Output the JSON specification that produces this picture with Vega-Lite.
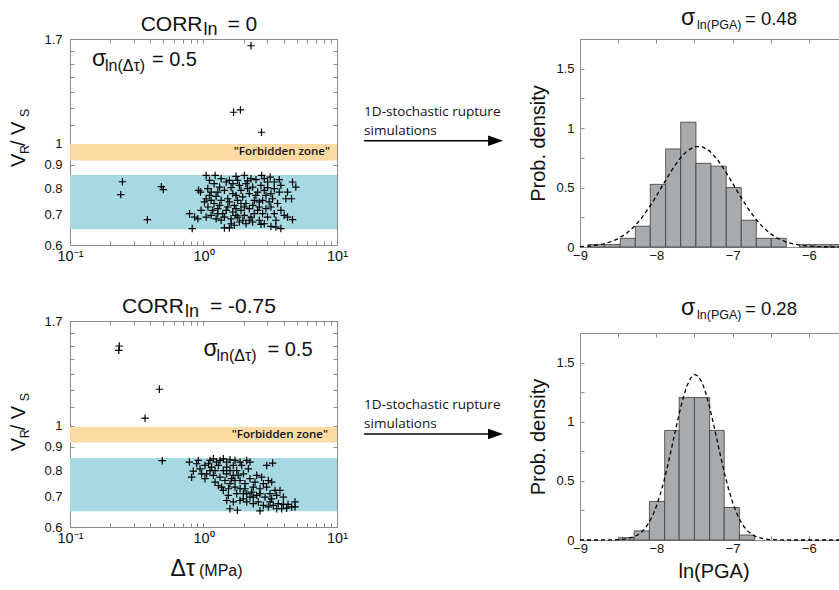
{
"$schema": "https://vega.github.io/schema/vega-lite/v6.json",
"background": "white",
"padding": {"left": 8, "top": 6, "right": 0, "bottom": 0},
"config": {
 "font": "Liberation Sans",
 "view": {"stroke": "#8c8c8c", "strokeWidth": 1},
 "axis": {"grid": false, "domain": false, "tickColor": "#8c8c8c", "tickSize": -4, "labelColor": "#111", "labelFontSize": 13, "labelFont": "Liberation Sans", "labelOverlap": false, "labelFlush": false, "labelBound": false, "titleFont": "Liberation Sans", "titleFontWeight": "normal", "titleColor": "#111"},
 "text": {"color": "#111", "font": "Liberation Sans"}
},
"datasets": {
 "sct": [
  {"tau":2.27,"vr":1.643},{"tau":1.68,"vr":1.174},{"tau":1.89,"vr":1.188},{"tau":2.72,"vr":1.061},{"tau":0.247,"vr":0.826},{"tau":0.24,"vr":0.774},{"tau":0.483,"vr":0.806},{"tau":0.5,"vr":0.794},{"tau":0.38,"vr":0.682},
  {"tau":1.047,"vr":0.853},{"tau":1.222,"vr":0.853},{"tau":2.023,"vr":0.853},{"tau":2.725,"vr":0.853},{"tau":3.162,"vr":0.846},{"tau":1.753,"vr":0.849},{"tau":2.269,"vr":0.839},{"tau":3.692,"vr":0.835},{"tau":3.388,"vr":0.825},{"tau":1.355,"vr":0.839},{"tau":1.563,"vr":0.832},{"tau":1.109,"vr":0.832},{"tau":2.473,"vr":0.835},{"tau":2.853,"vr":0.839},{"tau":4.643,"vr":0.825},{"tau":4.915,"vr":0.804},{"tau":4.26,"vr":0.784},{"tau":4.563,"vr":0.758},{"tau":3.692,"vr":0.784},{"tau":4.14,"vr":0.758},{"tau":0.918,"vr":0.791},{"tau":0.95,"vr":0.784},{"tau":1.077,"vr":0.798},{"tau":1.141,"vr":0.784},{"tau":1.047,"vr":0.758},{"tau":1.017,"vr":0.746},{"tau":1.141,"vr":0.752},{"tau":1.243,"vr":0.767},{"tau":1.435,"vr":0.791},{"tau":1.609,"vr":0.802},{"tau":1.857,"vr":0.811},{"tau":2.082,"vr":0.818},{"tau":2.335,"vr":0.804},{"tau":2.694,"vr":0.811},{"tau":3.021,"vr":0.802},{"tau":3.388,"vr":0.798},{"tau":1.355,"vr":0.752},{"tau":1.519,"vr":0.758},{"tau":1.753,"vr":0.771},{"tau":1.966,"vr":0.765},{"tau":2.204,"vr":0.778},{"tau":2.544,"vr":0.784},{"tau":2.936,"vr":0.771},{"tau":3.292,"vr":0.758},{"tau":2.618,"vr":0.746},{"tau":2.403,"vr":0.752},{"tau":2.772,"vr":0.752},{"tau":1.91,"vr":0.74},{"tau":1.703,"vr":0.733},{"tau":1.519,"vr":0.727},{"tau":1.279,"vr":0.721},{"tau":1.174,"vr":0.715},{"tau":1.394,"vr":0.703},{"tau":1.656,"vr":0.709},{"tau":1.91,"vr":0.715},{"tau":2.204,"vr":0.721},{"tau":2.544,"vr":0.715},{"tau":2.936,"vr":0.721},{"tau":3.199,"vr":0.727},{"tau":3.587,"vr":0.74},{"tau":3.799,"vr":0.715},{"tau":3.388,"vr":0.703},{"tau":0.786,"vr":0.703},{"tau":0.857,"vr":0.691},{"tau":0.907,"vr":0.685},{"tau":1.047,"vr":0.691},{"tau":1.141,"vr":0.697},{"tau":1.243,"vr":0.685},{"tau":1.435,"vr":0.691},{"tau":1.609,"vr":0.685},{"tau":1.804,"vr":0.691},{"tau":2.023,"vr":0.697},{"tau":2.269,"vr":0.691},{"tau":2.618,"vr":0.68},{"tau":3.021,"vr":0.691},{"tau":3.486,"vr":0.68},{"tau":4.023,"vr":0.697},{"tau":4.26,"vr":0.691},{"tau":4.643,"vr":0.682},{"tau":2.853,"vr":0.668},{"tau":3.199,"vr":0.659},{"tau":3.486,"vr":0.657},{"tau":3.799,"vr":0.652},{"tau":2.694,"vr":0.666},{"tau":2.335,"vr":0.674},{"tau":2.082,"vr":0.668},{"tau":1.857,"vr":0.674},{"tau":1.703,"vr":0.663},{"tau":1.563,"vr":0.654},{"tau":1.435,"vr":0.654},{"tau":0.823,"vr":0.652},{"tau":1.355,"vr":0.68},
  {"tau":1.2,"vr":0.818},{"tau":1.32,"vr":0.804},{"tau":1.48,"vr":0.825},{"tau":1.66,"vr":0.818},{"tau":1.8,"vr":0.832},{"tau":2.14,"vr":0.83},{"tau":3.02,"vr":0.825},{"tau":3.8,"vr":0.811},{"tau":1.2,"vr":0.74},{"tau":1.32,"vr":0.733},{"tau":1.56,"vr":0.746},{"tau":1.8,"vr":0.752},{"tau":2.08,"vr":0.74},{"tau":2.34,"vr":0.733},{"tau":3.1,"vr":0.746},{"tau":1.48,"vr":0.715},{"tau":1.75,"vr":0.721},{"tau":2.02,"vr":0.727},{"tau":2.4,"vr":0.703},{"tau":2.77,"vr":0.703},{"tau":1.75,"vr":0.697},{"tau":1.97,"vr":0.68},{"tau":2.2,"vr":0.68},{"tau":1.61,"vr":0.668},{"tau":1.28,"vr":0.703},{"tau":1.08,"vr":0.727},{"tau":0.96,"vr":0.715},{"tau":1.11,"vr":0.771},{"tau":1.28,"vr":0.784},{"tau":1.66,"vr":0.778},{"tau":1.91,"vr":0.791},{"tau":2.14,"vr":0.798},{"tau":2.47,"vr":0.771},{"tau":2.85,"vr":0.791},{"tau":3.2,"vr":0.778},{"tau":2.62,"vr":0.727}
 ],
 "scb": [
  {"tau":0.234,"vr":1.498},{"tau":0.232,"vr":1.466},{"tau":0.467,"vr":1.204},{"tau":0.365,"vr":1.04},{"tau":0.491,"vr":0.839},
  {"tau":0.783,"vr":0.833},{"tau":0.889,"vr":0.826},{"tau":0.839,"vr":0.796},{"tau":0.815,"vr":0.772},{"tau":0.942,"vr":0.805},{"tau":1.026,"vr":0.819},{"tau":1.119,"vr":0.84},{"tau":1.185,"vr":0.847},{"tau":1.329,"vr":0.84},{"tau":1.408,"vr":0.847},{"tau":1.579,"vr":0.843},{"tau":1.722,"vr":0.84},{"tau":1.673,"vr":0.819},{"tau":1.491,"vr":0.812},{"tau":1.291,"vr":0.819},{"tau":1.151,"vr":0.812},{"tau":1.056,"vr":0.785},{"tau":1.185,"vr":0.779},{"tau":1.026,"vr":0.766},{"tau":1.22,"vr":0.753},{"tau":1.329,"vr":0.772},{"tau":1.491,"vr":0.785},{"tau":1.449,"vr":0.759},{"tau":2.106,"vr":0.84},{"tau":2.23,"vr":0.833},{"tau":1.932,"vr":0.819},{"tau":2.167,"vr":0.805},{"tau":2.973,"vr":0.819},{"tau":3.297,"vr":0.829},{"tau":1.772,"vr":0.798},{"tau":1.626,"vr":0.766},{"tau":1.579,"vr":0.747},{"tau":1.722,"vr":0.734},{"tau":1.877,"vr":0.759},{"tau":2.046,"vr":0.747},{"tau":2.23,"vr":0.766},{"tau":2.502,"vr":0.779},{"tau":2.727,"vr":0.772},{"tau":3.06,"vr":0.759},{"tau":3.241,"vr":0.753},{"tau":2.362,"vr":0.734},{"tau":2.65,"vr":0.728},{"tau":2.973,"vr":0.734},{"tau":3.433,"vr":0.722},{"tau":3.741,"vr":0.722},{"tau":1.408,"vr":0.722},{"tau":1.535,"vr":0.704},{"tau":1.772,"vr":0.71},{"tau":1.988,"vr":0.71},{"tau":2.23,"vr":0.698},{"tau":2.502,"vr":0.704},{"tau":2.889,"vr":0.698},{"tau":3.241,"vr":0.692},{"tau":3.533,"vr":0.704},{"tau":3.963,"vr":0.698},{"tau":1.491,"vr":0.686},{"tau":1.673,"vr":0.681},{"tau":1.877,"vr":0.686},{"tau":2.106,"vr":0.681},{"tau":2.575,"vr":0.681},{"tau":2.807,"vr":0.669},{"tau":3.06,"vr":0.664},{"tau":3.335,"vr":0.669},{"tau":3.636,"vr":0.675},{"tau":3.85,"vr":0.658},{"tau":4.198,"vr":0.66},{"tau":4.576,"vr":0.664},{"tau":4.846,"vr":0.681},{"tau":4.846,"vr":0.664},{"tau":1.579,"vr":0.658},{"tau":1.793,"vr":0.653},{"tau":2.65,"vr":0.651},{"tau":1.291,"vr":0.74},{"tau":1.368,"vr":0.734},{"tau":1.119,"vr":0.798},{"tau":0.969,"vr":0.785},{"tau":1.408,"vr":0.798},{"tau":2.295,"vr":0.716},{"tau":2.046,"vr":0.728},{"tau":2.431,"vr":0.753},{"tau":2.807,"vr":0.747},{"tau":3.533,"vr":0.658},{"tau":3.963,"vr":0.673},
  {"tau":1.25,"vr":0.833},{"tau":1.49,"vr":0.833},{"tau":1.88,"vr":0.833},{"tau":1.09,"vr":0.826},{"tau":1.22,"vr":0.798},{"tau":1.58,"vr":0.798},{"tau":1.67,"vr":0.779},{"tau":1.82,"vr":0.779},{"tau":1.99,"vr":0.785},{"tau":1.54,"vr":0.728},{"tau":1.88,"vr":0.728},{"tau":2.11,"vr":0.71},{"tau":2.36,"vr":0.698},{"tau":2.65,"vr":0.71},{"tau":3.15,"vr":0.71},{"tau":1.99,"vr":0.692},{"tau":2.36,"vr":0.675},{"tau":3.15,"vr":0.681},{"tau":4.3,"vr":0.673},{"tau":1.72,"vr":0.759},{"tau":0.915,"vr":0.84}
 ],
 "ht": [
  {"x0":-8.895,"x1":-8.68,"d":0.02},{"x0":-8.68,"x1":-8.472,"d":0.02},{"x0":-8.472,"x1":-8.275,"d":0.073},{"x0":-8.275,"x1":-8.079,"d":0.175},{"x0":-8.079,"x1":-7.877,"d":0.527},{"x0":-7.877,"x1":-7.68,"d":0.825},{"x0":-7.68,"x1":-7.48,"d":1.05},{"x0":-7.48,"x1":-7.283,"d":0.704},{"x0":-7.283,"x1":-7.083,"d":0.68},{"x0":-7.083,"x1":-6.886,"d":0.5},{"x0":-6.886,"x1":-6.689,"d":0.225},{"x0":-6.689,"x1":-6.493,"d":0.073},{"x0":-6.493,"x1":-6.296,"d":0.073},{"x0":-6.12,"x1":-5.92,"d":0.02},{"x0":-5.92,"x1":-5.72,"d":0.02},{"x0":-5.72,"x1":-5.52,"d":0.02}
 ],
 "hb": [
  {"x0":-8.485,"x1":-8.29,"d":0.02},{"x0":-8.29,"x1":-8.09,"d":0.077},{"x0":-8.09,"x1":-7.89,"d":0.326},{"x0":-7.89,"x1":-7.7,"d":0.926},{"x0":-7.7,"x1":-7.5,"d":1.204},{"x0":-7.5,"x1":-7.3,"d":1.204},{"x0":-7.3,"x1":-7.11,"d":0.926},{"x0":-7.11,"x1":-6.91,"d":0.275},{"x0":-6.91,"x1":-6.71,"d":0.042}
 ],
 "ct": [
  {"x":-9,"d":0.004},{"x":-8.9,"d":0.007},{"x":-8.8,"d":0.014},{"x":-8.7,"d":0.025},{"x":-8.6,"d":0.043},{"x":-8.5,"d":0.07},{"x":-8.4,"d":0.11},{"x":-8.3,"d":0.166},{"x":-8.2,"d":0.238},{"x":-8.1,"d":0.326},{"x":-8.0,"d":0.428},{"x":-7.9,"d":0.537},{"x":-7.8,"d":0.643},{"x":-7.7,"d":0.737},{"x":-7.6,"d":0.807},{"x":-7.5,"d":0.844},{"x":-7.4,"d":0.844},{"x":-7.3,"d":0.807},{"x":-7.2,"d":0.737},{"x":-7.1,"d":0.643},{"x":-7.0,"d":0.537},{"x":-6.9,"d":0.428},{"x":-6.8,"d":0.326},{"x":-6.7,"d":0.238},{"x":-6.6,"d":0.166},{"x":-6.5,"d":0.11},{"x":-6.4,"d":0.07},{"x":-6.3,"d":0.043},{"x":-6.2,"d":0.025},{"x":-6.1,"d":0.014},{"x":-6.0,"d":0.007},{"x":-5.9,"d":0.004},{"x":-5.8,"d":0.002},{"x":-5.7,"d":0.001},{"x":-5.6,"d":0},{"x":-5.5,"d":0}
 ],
 "cb": [
  {"x":-9,"d":0},{"x":-8.8,"d":0},{"x":-8.6,"d":0.001},{"x":-8.5,"d":0.003},{"x":-8.4,"d":0.009},{"x":-8.3,"d":0.025},{"x":-8.25,"d":0.04},{"x":-8.2,"d":0.063},{"x":-8.15,"d":0.096},{"x":-8.1,"d":0.142},{"x":-8.05,"d":0.203},{"x":-8.0,"d":0.283},{"x":-7.95,"d":0.381},{"x":-7.9,"d":0.497},{"x":-7.85,"d":0.63},{"x":-7.8,"d":0.775},{"x":-7.75,"d":0.924},{"x":-7.7,"d":1.067},{"x":-7.65,"d":1.196},{"x":-7.6,"d":1.3},{"x":-7.55,"d":1.369},{"x":-7.5,"d":1.399},{"x":-7.45,"d":1.386},{"x":-7.4,"d":1.332},{"x":-7.35,"d":1.241},{"x":-7.3,"d":1.121},{"x":-7.25,"d":0.982},{"x":-7.2,"d":0.834},{"x":-7.15,"d":0.687},{"x":-7.1,"d":0.549},{"x":-7.05,"d":0.425},{"x":-7.0,"d":0.319},{"x":-6.95,"d":0.233},{"x":-6.9,"d":0.164},{"x":-6.85,"d":0.112},{"x":-6.8,"d":0.075},{"x":-6.75,"d":0.048},{"x":-6.7,"d":0.03},{"x":-6.6,"d":0.011},{"x":-6.5,"d":0.003},{"x":-6.4,"d":0.001},{"x":-6.2,"d":0},{"x":-5.8,"d":0},{"x":-5.5,"d":0}
 ]
},
"spacing": 510,
"bounds": "flush",
"hconcat": [
 {"spacing": 76, "bounds": "flush", "vconcat": [
  {"width": 267, "height": 206,
   "resolve": {"axis": {"x": "independent", "y": "independent"}},
   "layer": [
    {"data": {"values": [{"lo": 0.65, "hi": 0.855}]}, "mark": {"type": "rect", "color": "#a7d9e3"},
     "encoding": {"y": {"field": "lo", "type": "quantitative", "scale": {"type": "log", "domain": [0.6, 1.7], "nice": false}, "axis": null}, "y2": {"field": "hi"}}},
    {"data": {"values": [{"lo": 0.92, "hi": 1.0}]}, "mark": {"type": "rect", "color": "#fdd9a3"},
     "encoding": {"y": {"field": "lo", "type": "quantitative", "axis": null}, "y2": {"field": "hi"}}},
    {"data": {"name": "sct"}, "mark": {"type": "point", "shape": "M-1,0H1M0,-1V1", "size": 56, "filled": false, "color": "black", "strokeWidth": 1.2, "opacity": 1},
     "encoding": {
      "x": {"field": "tau", "type": "quantitative", "scale": {"type": "log", "domain": [0.1, 10], "nice": false}, "axis": {"orient": "bottom", "values": [0.1,0.2,0.3,0.4,0.5,0.6,0.7,0.8,0.9,1,2,3,4,5,6,7,8,9,10], "labelExpr": "datum.value == 0.1 ? '10⁻¹' : (datum.value == 1 ? '10⁰' : (datum.value == 10 ? '10¹' : ''))", "title": null, "labelPadding": 8, "labelFontSize": 14.5}},
      "y": {"field": "vr", "type": "quantitative", "scale": {"type": "log", "domain": [0.6, 1.7], "nice": false}, "axis": {"orient": "left", "values": [0.6,0.7,0.8,0.9,1,1.1,1.2,1.3,1.4,1.5,1.6,1.7], "labelExpr": "(datum.value < 1.05 || datum.value > 1.65) ? format(datum.value, '~g') : ''", "title": null, "labelPadding": 12}}}},
    {"data": {"values": [{"a": 1, "b": 1}]}, "mark": {"type": "point", "opacity": 0},
     "encoding": {
      "x": {"field": "a", "type": "quantitative", "axis": {"orient": "top", "values": [0.1,0.2,0.3,0.4,0.5,0.6,0.7,0.8,0.9,1,2,3,4,5,6,7,8,9,10], "labels": false, "title": null}},
      "y": {"field": "b", "type": "quantitative", "axis": {"orient": "right", "values": [0.6,0.7,0.8,0.9,1,1.1,1.2,1.3,1.4,1.5,1.6,1.7], "labels": false, "title": null}}}},
    {"data": {"values": [{}]}, "mark": {"type": "text", "text": "CORR", "fontSize": 21, "align": "right", "baseline": "alphabetic", "dx": -1},
     "encoding": {"x": {"datum": 1, "type": "quantitative", "axis": null}, "y": {"datum": 1.77, "type": "quantitative", "axis": null}}},
    {"data": {"values": [{}]}, "mark": {"type": "text", "text": "ln", "fontSize": 18, "align": "left", "baseline": "alphabetic", "dx": 0, "dy": 4},
     "encoding": {"x": {"datum": 1, "type": "quantitative", "axis": null}, "y": {"datum": 1.77, "type": "quantitative", "axis": null}}},
    {"data": {"values": [{}]}, "mark": {"type": "text", "text": "= 0", "fontSize": 21, "align": "left", "baseline": "alphabetic", "dx": 24},
     "encoding": {"x": {"datum": 1, "type": "quantitative", "axis": null}, "y": {"datum": 1.77, "type": "quantitative", "axis": null}}},
    {"data": {"values": [{}]}, "mark": {"type": "text", "text": "σ", "fontSize": 23, "align": "left", "baseline": "alphabetic"},
     "encoding": {"x": {"datum": 0.146, "type": "quantitative", "axis": null}, "y": {"datum": 1.483, "type": "quantitative", "axis": null}}},
    {"data": {"values": [{}]}, "mark": {"type": "text", "text": "ln(Δτ)", "fontSize": 16, "align": "left", "baseline": "alphabetic", "dx": 13, "dy": 5},
     "encoding": {"x": {"datum": 0.146, "type": "quantitative", "axis": null}, "y": {"datum": 1.483, "type": "quantitative", "axis": null}}},
    {"data": {"values": [{}]}, "mark": {"type": "text", "text": "= 0.5", "fontSize": 20, "align": "left", "baseline": "alphabetic", "dx": 60},
     "encoding": {"x": {"datum": 0.146, "type": "quantitative", "axis": null}, "y": {"datum": 1.483, "type": "quantitative", "axis": null}}},
    {"data": {"values": [{}]}, "mark": {"type": "text", "text": "\"Forbidden zone\"", "font": "Open Sans", "fontWeight": 600, "fontSize": 11.5, "align": "right", "baseline": "middle", "dx": -7},
     "encoding": {"x": {"datum": 10, "type": "quantitative", "axis": null}, "y": {"datum": 0.958, "type": "quantitative", "axis": null}}},
    {"data": {"values": [{}]}, "mark": {"type": "text", "text": "V", "fontSize": 20, "angle": 270, "align": "left", "baseline": "alphabetic"},
     "encoding": {"x": {"datum": 0.046, "type": "quantitative", "axis": null}, "y": {"datum": 0.89, "type": "quantitative", "axis": null}}},
    {"data": {"values": [{}]}, "mark": {"type": "text", "text": "R", "fontSize": 12.5, "angle": 270, "align": "left", "baseline": "alphabetic", "dx": 13, "dy": 4},
     "encoding": {"x": {"datum": 0.046, "type": "quantitative", "axis": null}, "y": {"datum": 0.89, "type": "quantitative", "axis": null}}},
    {"data": {"values": [{}]}, "mark": {"type": "text", "text": " / V", "fontSize": 20, "angle": 270, "align": "left", "baseline": "alphabetic", "dx": 21},
     "encoding": {"x": {"datum": 0.046, "type": "quantitative", "axis": null}, "y": {"datum": 0.89, "type": "quantitative", "axis": null}}},
    {"data": {"values": [{}]}, "mark": {"type": "text", "text": "S", "fontSize": 12.5, "angle": 270, "align": "left", "baseline": "alphabetic", "dx": 50, "dy": 4},
     "encoding": {"x": {"datum": 0.046, "type": "quantitative", "axis": null}, "y": {"datum": 0.89, "type": "quantitative", "axis": null}}}
   ]},
  {"width": 267, "height": 206,
   "resolve": {"axis": {"x": "independent", "y": "independent"}},
   "layer": [
    {"data": {"values": [{"lo": 0.65, "hi": 0.85}]}, "mark": {"type": "rect", "color": "#a7d9e3"},
     "encoding": {"y": {"field": "lo", "type": "quantitative", "scale": {"type": "log", "domain": [0.6, 1.7], "nice": false}, "axis": null}, "y2": {"field": "hi"}}},
    {"data": {"values": [{"lo": 0.92, "hi": 0.995}]}, "mark": {"type": "rect", "color": "#fdd9a3"},
     "encoding": {"y": {"field": "lo", "type": "quantitative", "axis": null}, "y2": {"field": "hi"}}},
    {"data": {"name": "scb"}, "mark": {"type": "point", "shape": "M-1,0H1M0,-1V1", "size": 56, "filled": false, "color": "black", "strokeWidth": 1.2, "opacity": 1},
     "encoding": {
      "x": {"field": "tau", "type": "quantitative", "scale": {"type": "log", "domain": [0.1, 10], "nice": false}, "axis": {"orient": "bottom", "values": [0.1,0.2,0.3,0.4,0.5,0.6,0.7,0.8,0.9,1,2,3,4,5,6,7,8,9,10], "labelExpr": "datum.value == 0.1 ? '10⁻¹' : (datum.value == 1 ? '10⁰' : (datum.value == 10 ? '10¹' : ''))", "title": null, "labelPadding": 8, "labelFontSize": 14.5}},
      "y": {"field": "vr", "type": "quantitative", "scale": {"type": "log", "domain": [0.6, 1.7], "nice": false}, "axis": {"orient": "left", "values": [0.6,0.7,0.8,0.9,1,1.1,1.2,1.3,1.4,1.5,1.6,1.7], "labelExpr": "(datum.value < 1.05 || datum.value > 1.65) ? format(datum.value, '~g') : ''", "title": null, "labelPadding": 12}}}},
    {"data": {"values": [{"a": 1, "b": 1}]}, "mark": {"type": "point", "opacity": 0},
     "encoding": {
      "x": {"field": "a", "type": "quantitative", "axis": {"orient": "top", "values": [0.1,0.2,0.3,0.4,0.5,0.6,0.7,0.8,0.9,1,2,3,4,5,6,7,8,9,10], "labels": false, "title": null}},
      "y": {"field": "b", "type": "quantitative", "axis": {"orient": "right", "values": [0.6,0.7,0.8,0.9,1,1.1,1.2,1.3,1.4,1.5,1.6,1.7], "labels": false, "title": null}}}},
    {"data": {"values": [{}]}, "mark": {"type": "text", "text": "CORR", "fontSize": 21, "align": "right", "baseline": "alphabetic", "dx": -1},
     "encoding": {"x": {"datum": 0.726, "type": "quantitative", "axis": null}, "y": {"datum": 1.77, "type": "quantitative", "axis": null}}},
    {"data": {"values": [{}]}, "mark": {"type": "text", "text": "ln", "fontSize": 18, "align": "left", "baseline": "alphabetic", "dx": 0, "dy": 4},
     "encoding": {"x": {"datum": 0.726, "type": "quantitative", "axis": null}, "y": {"datum": 1.77, "type": "quantitative", "axis": null}}},
    {"data": {"values": [{}]}, "mark": {"type": "text", "text": "= -0.75", "fontSize": 21, "align": "left", "baseline": "alphabetic", "dx": 25},
     "encoding": {"x": {"datum": 0.726, "type": "quantitative", "axis": null}, "y": {"datum": 1.77, "type": "quantitative", "axis": null}}},
    {"data": {"values": [{}]}, "mark": {"type": "text", "text": "σ", "fontSize": 23, "align": "left", "baseline": "alphabetic"},
     "encoding": {"x": {"datum": 1.0, "type": "quantitative", "axis": null}, "y": {"datum": 1.422, "type": "quantitative", "axis": null}}},
    {"data": {"values": [{}]}, "mark": {"type": "text", "text": "ln(Δτ)", "fontSize": 16, "align": "left", "baseline": "alphabetic", "dx": 13, "dy": 5},
     "encoding": {"x": {"datum": 1.0, "type": "quantitative", "axis": null}, "y": {"datum": 1.422, "type": "quantitative", "axis": null}}},
    {"data": {"values": [{}]}, "mark": {"type": "text", "text": "= 0.5", "fontSize": 20, "align": "left", "baseline": "alphabetic", "dx": 64},
     "encoding": {"x": {"datum": 1.0, "type": "quantitative", "axis": null}, "y": {"datum": 1.422, "type": "quantitative", "axis": null}}},
    {"data": {"values": [{}]}, "mark": {"type": "text", "text": "\"Forbidden zone\"", "font": "Open Sans", "fontWeight": 600, "fontSize": 11.5, "align": "right", "baseline": "middle", "dx": -9},
     "encoding": {"x": {"datum": 10, "type": "quantitative", "axis": null}, "y": {"datum": 0.955, "type": "quantitative", "axis": null}}},
    {"data": {"values": [{}]}, "mark": {"type": "text", "text": "V", "fontSize": 20, "angle": 270, "align": "left", "baseline": "alphabetic"},
     "encoding": {"x": {"datum": 0.046, "type": "quantitative", "axis": null}, "y": {"datum": 0.88, "type": "quantitative", "axis": null}}},
    {"data": {"values": [{}]}, "mark": {"type": "text", "text": "R", "fontSize": 12.5, "angle": 270, "align": "left", "baseline": "alphabetic", "dx": 13, "dy": 4},
     "encoding": {"x": {"datum": 0.046, "type": "quantitative", "axis": null}, "y": {"datum": 0.88, "type": "quantitative", "axis": null}}},
    {"data": {"values": [{}]}, "mark": {"type": "text", "text": " / V", "fontSize": 20, "angle": 270, "align": "left", "baseline": "alphabetic", "dx": 21},
     "encoding": {"x": {"datum": 0.046, "type": "quantitative", "axis": null}, "y": {"datum": 0.88, "type": "quantitative", "axis": null}}},
    {"data": {"values": [{}]}, "mark": {"type": "text", "text": "S", "fontSize": 12.5, "angle": 270, "align": "left", "baseline": "alphabetic", "dx": 50, "dy": 4},
     "encoding": {"x": {"datum": 0.046, "type": "quantitative", "axis": null}, "y": {"datum": 0.88, "type": "quantitative", "axis": null}}},
    {"data": {"values": [{}]}, "mark": {"type": "text", "text": "Δτ", "fontSize": 23, "align": "right", "baseline": "alphabetic", "dx": -1},
     "encoding": {"x": {"datum": 0.879, "type": "quantitative", "axis": null}, "y": {"datum": 0.469, "type": "quantitative", "axis": null}}},
    {"data": {"values": [{}]}, "mark": {"type": "text", "text": "(MPa)", "fontSize": 16, "align": "left", "baseline": "alphabetic", "dx": 3},
     "encoding": {"x": {"datum": 0.879, "type": "quantitative", "axis": null}, "y": {"datum": 0.469, "type": "quantitative", "axis": null}}}
   ]}
 ]},
 {"spacing": 86, "bounds": "flush", "vconcat": [
  {"width": 267, "height": 208,
   "resolve": {"axis": {"x": "independent", "y": "independent"}},
   "layer": [
    {"data": {"name": "ht"}, "mark": {"type": "rect", "color": "#a8abad", "stroke": "#3a3a3a", "strokeWidth": 0.8},
     "encoding": {
      "x": {"field": "x0", "type": "quantitative", "scale": {"domain": [-9, -5.5], "nice": false, "zero": false}, "axis": {"orient": "bottom", "values": [-9,-8.5,-8,-7.5,-7,-6.5,-6,-5.5], "labelExpr": "abs(datum.value % 1) < 0.01 ? format(datum.value, '~g') : ''", "title": null, "labelPadding": 6}},
      "x2": {"field": "x1"},
      "y": {"field": "d", "type": "quantitative", "scale": {"domain": [0, 1.75], "nice": false}, "axis": {"orient": "left", "values": [0,0.25,0.5,0.75,1,1.25,1.5,1.75], "labelExpr": "abs(datum.value % 0.5) < 0.01 ? format(datum.value, '~g') : ''", "title": "Prob. density", "titleFontSize": 20, "titlePadding": 7, "labelPadding": 10}},
      "y2": {"datum": 0}}},
    {"data": {"name": "ct"}, "mark": {"type": "line", "color": "black", "strokeWidth": 1.3, "strokeDash": [4, 3]},
     "encoding": {"x": {"field": "x", "type": "quantitative", "axis": null}, "y": {"field": "d", "type": "quantitative", "axis": null}}},
    {"data": {"values": [{"a": -7, "b": 0.5}]}, "mark": {"type": "point", "opacity": 0},
     "encoding": {
      "x": {"field": "a", "type": "quantitative", "axis": {"orient": "top", "values": [-9,-8.5,-8,-7.5,-7,-6.5,-6,-5.5], "labels": false, "title": null}},
      "y": {"field": "b", "type": "quantitative", "axis": {"orient": "right", "values": [0,0.25,0.5,0.75,1,1.25,1.5,1.75], "labels": false, "title": null}}}},
    {"data": {"values": [{}]}, "mark": {"type": "text", "text": "σ", "fontSize": 23, "align": "left", "baseline": "alphabetic"},
     "encoding": {"x": {"datum": -7.676, "type": "quantitative", "axis": null}, "y": {"datum": 1.87, "type": "quantitative", "axis": null}}},
    {"data": {"values": [{}]}, "mark": {"type": "text", "text": "ln(PGA)", "fontSize": 12.5, "align": "left", "baseline": "alphabetic", "dx": 16, "dy": 4},
     "encoding": {"x": {"datum": -7.676, "type": "quantitative", "axis": null}, "y": {"datum": 1.87, "type": "quantitative", "axis": null}}},
    {"data": {"values": [{}]}, "mark": {"type": "text", "text": "= 0.48", "fontSize": 18.5, "align": "left", "baseline": "alphabetic", "dx": 64},
     "encoding": {"x": {"datum": -7.676, "type": "quantitative", "axis": null}, "y": {"datum": 1.87, "type": "quantitative", "axis": null}}},
    {"data": {"values": [{}]}, "mark": {"type": "rule", "color": "black", "strokeWidth": 1.5},
     "encoding": {"x": {"datum": -11.83, "type": "quantitative", "axis": null}, "x2": {"datum": -10.08}, "y": {"datum": 0.893, "type": "quantitative", "axis": null}}},
    {"data": {"values": [{}]}, "mark": {"type": "point", "shape": "M-1,-0.7L1,0L-1,0.7Z", "size": 225, "filled": true, "color": "black", "opacity": 1},
     "encoding": {"x": {"datum": -10.107, "type": "quantitative", "axis": null}, "y": {"datum": 0.893, "type": "quantitative", "axis": null}}},
    {"data": {"values": [{}]}, "mark": {"type": "text", "text": "1D-stochastic rupture\nsimulations", "lineBreak": "\n", "lineHeight": 19, "font": "Open Sans", "fontSize": 13.5, "align": "left", "baseline": "alphabetic"},
     "encoding": {"x": {"datum": -11.83, "type": "quantitative", "axis": null}, "y": {"datum": 1.1, "type": "quantitative", "axis": null}}}
   ]},
  {"width": 267, "height": 207,
   "resolve": {"axis": {"x": "independent", "y": "independent"}},
   "layer": [
    {"data": {"name": "hb"}, "mark": {"type": "rect", "color": "#a8abad", "stroke": "#3a3a3a", "strokeWidth": 0.8},
     "encoding": {
      "x": {"field": "x0", "type": "quantitative", "scale": {"domain": [-9, -5.5], "nice": false, "zero": false}, "axis": {"orient": "bottom", "values": [-9,-8.5,-8,-7.5,-7,-6.5,-6,-5.5], "labelExpr": "abs(datum.value % 1) < 0.01 ? format(datum.value, '~g') : ''", "title": "ln(PGA)", "titleFontSize": 20, "titlePadding": 6, "labelPadding": 6}},
      "x2": {"field": "x1"},
      "y": {"field": "d", "type": "quantitative", "scale": {"domain": [0, 1.75], "nice": false}, "axis": {"orient": "left", "values": [0,0.25,0.5,0.75,1,1.25,1.5,1.75], "labelExpr": "abs(datum.value % 0.5) < 0.01 ? format(datum.value, '~g') : ''", "title": "Prob. density", "titleFontSize": 20, "titlePadding": 7, "labelPadding": 10}},
      "y2": {"datum": 0}}},
    {"data": {"name": "cb"}, "mark": {"type": "line", "color": "black", "strokeWidth": 1.3, "strokeDash": [4, 3]},
     "encoding": {"x": {"field": "x", "type": "quantitative", "axis": null}, "y": {"field": "d", "type": "quantitative", "axis": null}}},
    {"data": {"values": [{"a": -7, "b": 0.5}]}, "mark": {"type": "point", "opacity": 0},
     "encoding": {
      "x": {"field": "a", "type": "quantitative", "axis": {"orient": "top", "values": [-9,-8.5,-8,-7.5,-7,-6.5,-6,-5.5], "labels": false, "title": null}},
      "y": {"field": "b", "type": "quantitative", "axis": {"orient": "right", "values": [0,0.25,0.5,0.75,1,1.25,1.5,1.75], "labels": false, "title": null}}}},
    {"data": {"values": [{}]}, "mark": {"type": "text", "text": "σ", "fontSize": 23, "align": "left", "baseline": "alphabetic"},
     "encoding": {"x": {"datum": -7.676, "type": "quantitative", "axis": null}, "y": {"datum": 1.9, "type": "quantitative", "axis": null}}},
    {"data": {"values": [{}]}, "mark": {"type": "text", "text": "ln(PGA)", "fontSize": 12.5, "align": "left", "baseline": "alphabetic", "dx": 16, "dy": 4},
     "encoding": {"x": {"datum": -7.676, "type": "quantitative", "axis": null}, "y": {"datum": 1.9, "type": "quantitative", "axis": null}}},
    {"data": {"values": [{}]}, "mark": {"type": "text", "text": "= 0.28", "fontSize": 18.5, "align": "left", "baseline": "alphabetic", "dx": 64},
     "encoding": {"x": {"datum": -7.676, "type": "quantitative", "axis": null}, "y": {"datum": 1.9, "type": "quantitative", "axis": null}}},
    {"data": {"values": [{}]}, "mark": {"type": "rule", "color": "black", "strokeWidth": 1.5},
     "encoding": {"x": {"datum": -11.83, "type": "quantitative", "axis": null}, "x2": {"datum": -10.08}, "y": {"datum": 0.896, "type": "quantitative", "axis": null}}},
    {"data": {"values": [{}]}, "mark": {"type": "point", "shape": "M-1,-0.7L1,0L-1,0.7Z", "size": 225, "filled": true, "color": "black", "opacity": 1},
     "encoding": {"x": {"datum": -10.107, "type": "quantitative", "axis": null}, "y": {"datum": 0.896, "type": "quantitative", "axis": null}}},
    {"data": {"values": [{}]}, "mark": {"type": "text", "text": "1D-stochastic rupture\nsimulations", "lineBreak": "\n", "lineHeight": 19, "font": "Open Sans", "fontSize": 13.5, "align": "left", "baseline": "alphabetic"},
     "encoding": {"x": {"datum": -11.83, "type": "quantitative", "axis": null}, "y": {"datum": 1.106, "type": "quantitative", "axis": null}}}
   ]}
 ]}
]
}
